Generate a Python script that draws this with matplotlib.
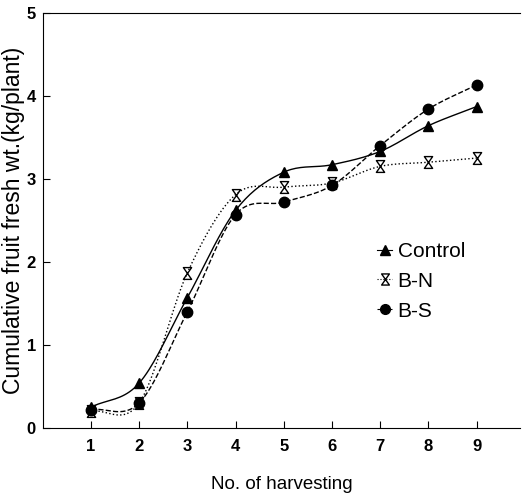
import matplotlib
matplotlib.use('Agg')
import matplotlib.pyplot as plt
from matplotlib.path import Path
import numpy as np

plt.rcParams['font.family'] = ['Liberation Sans', 'DejaVu Sans']

harvest = [1, 2, 3, 4, 5, 6, 7, 8, 9]
control = [0.25, 0.54, 1.57, 2.62, 3.08, 3.17, 3.33, 3.64, 3.87]
b_n = [0.2, 0.3, 1.87, 2.81, 2.9, 2.95, 3.15, 3.2, 3.25]
b_s = [0.22, 0.3, 1.4, 2.57, 2.72, 2.92, 3.4, 3.84, 4.13]

# hourglass outline marker
hourglass = Path([(-0.35, 0.5), (0.35, 0.5), (-0.35, -0.5), (0.35, -0.5), (-0.35, 0.5)],
                 [Path.MOVETO, Path.LINETO, Path.LINETO, Path.LINETO, Path.CLOSEPOLY])


def smooth(x, y, n=20):
    # catmull-rom curve through the points, only for drawing
    x = np.asarray(x, float)
    y = np.asarray(y, float)
    px = np.concatenate([[2 * x[0] - x[1]], x, [2 * x[-1] - x[-2]]])
    py = np.concatenate([[2 * y[0] - y[1]], y, [2 * y[-1] - y[-2]]])
    xs, ys = [], []
    t = np.linspace(0, 1, n, endpoint=False)
    for i in range(1, len(px) - 2):
        for p, out in ((px, xs), (py, ys)):
            p0, p1, p2, p3 = p[i - 1], p[i], p[i + 1], p[i + 2]
            out.extend(0.5 * (2 * p1 + (-p0 + p2) * t
                              + (2 * p0 - 5 * p1 + 4 * p2 - p3) * t ** 2
                              + (-p0 + 3 * p1 - 3 * p2 + p3) * t ** 3))
    xs.append(x[-1])
    ys.append(y[-1])
    return xs, ys


fig = plt.figure(figsize=(5.23, 4.94), dpi=100)
ax = fig.add_axes([0.082, 0.134, 0.912, 0.84])

series = [
    ('Control', control, '-', '^', 'k', 7.5),
    ('B-N', b_n, ':', hourglass, 'none', 8.5),
    ('B-S', b_s, '--', 'o', 'k', 7.5),
]
for label, vals, ls, mk, fill, ms in series:
    sx, sy = smooth(harvest, vals)
    ax.plot(sx, sy, linestyle=ls, color='k', lw=1.0)
    ax.plot(harvest, vals, linestyle='none', marker=mk, color='k', ms=ms,
            mfc=fill, mew=1.0)
    ax.plot([], [], linestyle=ls, marker=mk, color='k', ms=ms - 0.5, mfc=fill,
            lw=0.8, label=label)

ax.set_xlim(0, 9.9)
ax.set_ylim(0, 5)
ax.set_xticks(harvest)
ax.set_yticks([0, 1, 2, 3, 4, 5])
ax.tick_params(direction='in', length=5, labelsize=12)
ax.tick_params(axis='x', pad=8)
ax.tick_params(axis='y', pad=5)
for lab in ax.get_xticklabels() + ax.get_yticklabels():
    lab.set_fontweight('bold')
ax.spines['right'].set_visible(False)
ax.set_xlabel('No. of harvesting', fontsize=13.5, labelpad=16)
ax.set_ylabel('Cumulative fruit fresh wt.(kg/plant)', fontsize=16.5, labelpad=1)

ax.legend(loc='upper left', bbox_to_anchor=(0.70, 0.448), frameon=False,
          fontsize=15, handlelength=0.75, handletextpad=0.25, labelspacing=0.52,
          borderpad=0, borderaxespad=0)

fig.savefig('out.png', dpi=100)
